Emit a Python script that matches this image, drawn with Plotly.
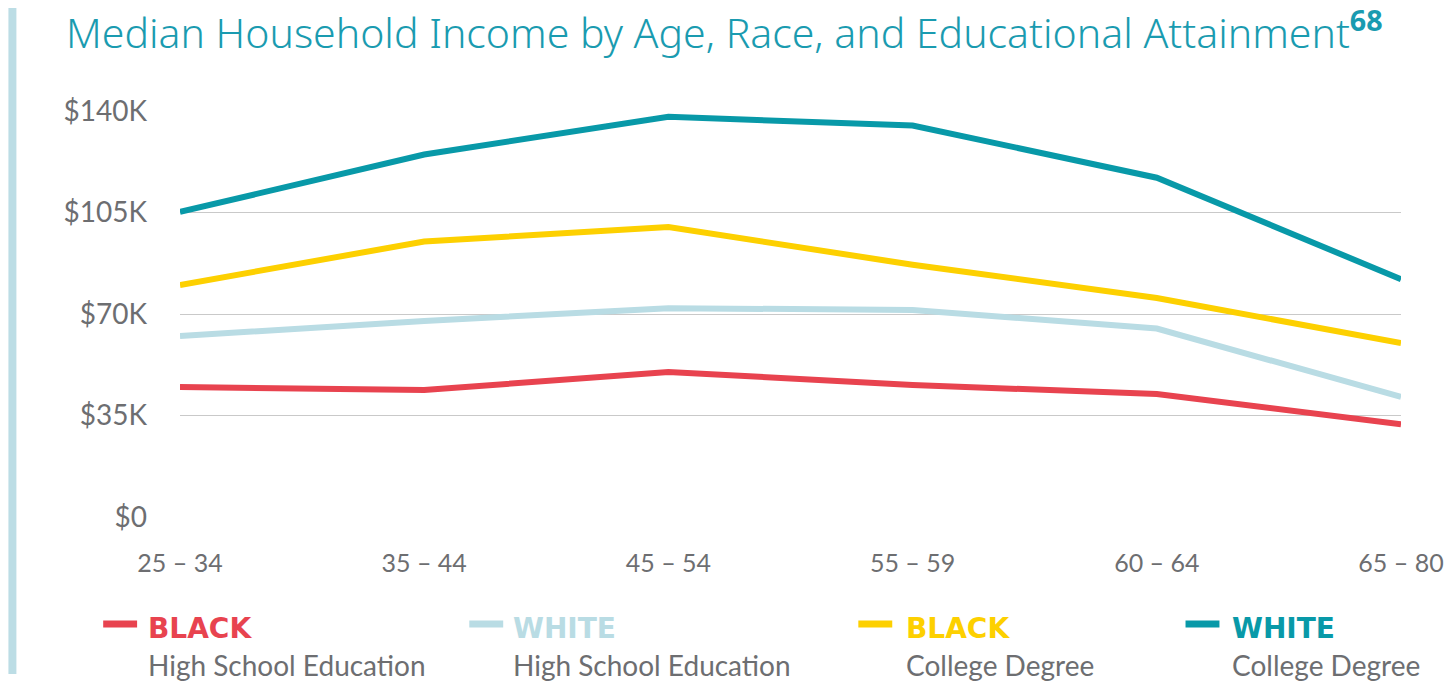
import plotly.graph_objects as go

age_groups = ["25 – 34", "35 – 44", "45 – 54", "55 – 59", "60 – 64", "65 – 80"]
black_hs = [44.8, 43.8, 50.0, 45.5, 42.4, 32.0]
white_hs = [62.4, 67.6, 72.0, 71.4, 65.0, 41.4]
black_college = [80.0, 95.0, 100.0, 87.0, 75.5, 60.0]
white_college = [105.2, 125.0, 138.0, 135.0, 117.0, 82.0]

y_tick_vals = [0, 35, 70, 105, 140]
y_tick_text = ["$0", "$35K", "$70K", "$105K", "$140K"]

series_names = ["BLACK", "WHITE", "BLACK", "WHITE"]
series_sub = ["High School Education", "High School Education", "College Degree", "College Degree"]
series_values = [black_hs, white_hs, black_college, white_college]
series_colors = ["#e8434f", "#b9dce4", "#fdd000", "#0899a8"]

W, H = 1456, 683
L, R, T, B = 180, 52, 111, 166
pw, ph = W - L - R, H - T - B

def px_x(x):
    return (x - L) / pw

def px_y(y):
    return (H - B - y) / ph

fig = go.Figure()
xs = list(range(len(age_groups)))
for vals, col, nm, sub in zip(series_values, series_colors, series_names, series_sub):
    fig.add_trace(go.Scatter(x=xs, y=vals, mode="lines",
                             line=dict(color=col, width=6), name=nm + " " + sub,
                             cliponaxis=False, showlegend=False))

gray = "#6d6e71"
font_main = "Lato, 'Liberation Sans', sans-serif"

# custom legend
leg_swatch_x = [103, 470, 860, 1188]
leg_text_x = [146, 512, 906, 1233]
annotations = []
shapes = []
for i in range(4):
    shapes.append(dict(type="line", xref="paper", yref="paper",
                       x0=px_x(leg_swatch_x[i]), x1=px_x(leg_swatch_x[i] + 34),
                       y0=px_y(624), y1=px_y(624),
                       line=dict(color=series_colors[i], width=7)))
    annotations.append(dict(xref="paper", yref="paper", x=px_x(leg_text_x[i]), y=px_y(628),
                            xanchor="left", yanchor="middle", showarrow=False,
                            text="<b>" + series_names[i] + "</b>",
                            font=dict(family="'DejaVu Sans', sans-serif", size=28,
                                      color=series_colors[i])))
    annotations.append(dict(xref="paper", yref="paper", x=px_x(leg_text_x[i]), y=px_y(665),
                            xanchor="left", yanchor="middle", showarrow=False,
                            text=series_sub[i],
                            font=dict(family=font_main, size=28, color=gray)))

# title
annotations.append(dict(xref="paper", yref="paper", x=px_x(64), y=px_y(30),
                        xanchor="left", yanchor="middle", showarrow=False,
                        text="Median Household Income by Age, Race, and Educational Attainment"
                             "<sup><b>68</b></sup>",
                        font=dict(family="'Noto Sans', sans-serif", size=41, color="#1a9bb0",
                                  weight=300)))

# left accent bar
shapes.append(dict(type="rect", xref="paper", yref="paper",
                   x0=px_x(8), x1=px_x(16), y0=px_y(674), y1=px_y(8),
                   fillcolor="#bcdde5", line=dict(width=0), layer="below"))

fig.update_layout(
    width=W, height=H,
    margin=dict(l=L, r=R, t=T, b=B),
    paper_bgcolor="white", plot_bgcolor="white",
    xaxis=dict(range=[0, 5], tickvals=xs, ticktext=age_groups, showgrid=False, zeroline=False,
               showline=False, ticks="", ticklabelstandoff=29,
               tickfont=dict(family=font_main, size=25, color=gray)),
    yaxis=dict(range=[0, 140], tickvals=y_tick_vals, ticktext=y_tick_text,
               showgrid=True, gridcolor="#c9c9c9", gridwidth=1, zeroline=False,
               showline=False, ticks="", ticklabelstandoff=32,
               tickfont=dict(family=font_main, size=28, color=gray)),
    annotations=annotations, shapes=shapes,
)

fig.write_html("out.html")
